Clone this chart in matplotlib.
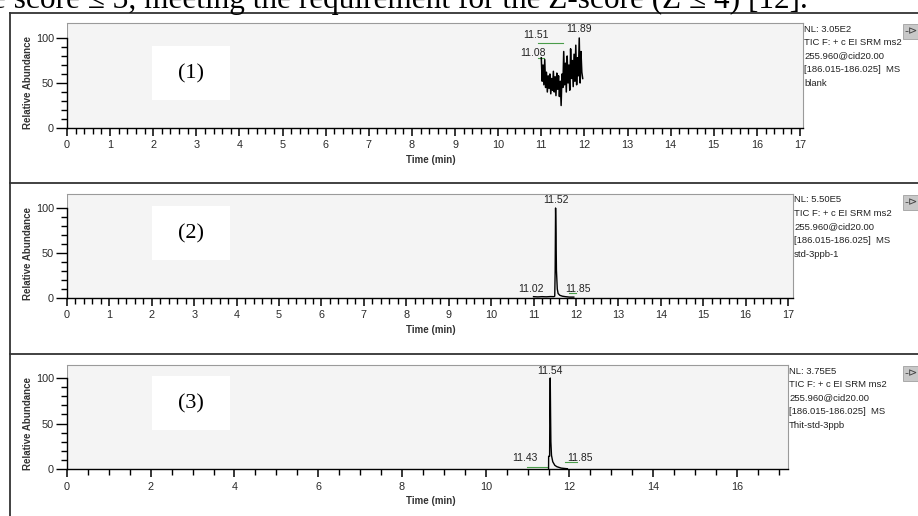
import numpy as np
import matplotlib
matplotlib.use("Agg")
import matplotlib.pyplot as plt
from matplotlib.patches import Rectangle
from matplotlib.lines import Line2D
from matplotlib.ticker import MultipleLocator, FixedLocator

# ==============================================
# Data
# ==============================================

# (1) blank - noisy trace only
time_blank = [11.00, 11.02, 11.04, 11.06, 11.08, 11.10, 11.12, 11.14, 11.16, 11.18,
              11.20, 11.22, 11.24, 11.26, 11.28, 11.30, 11.32, 11.34, 11.36, 11.38,
              11.40, 11.42, 11.44, 11.46, 11.48, 11.50, 11.52, 11.54, 11.56, 11.58,
              11.60, 11.62, 11.64, 11.66, 11.68, 11.70, 11.72, 11.74, 11.76, 11.78,
              11.80, 11.82, 11.84, 11.86, 11.88, 11.90, 11.92, 11.94, 11.96]
abund_blank = [78, 52, 70, 48, 76, 45, 62, 40, 58, 44,
               60, 38, 55, 42, 63, 40, 57, 36, 61, 43,
               58, 35, 52, 25, 60, 45, 85, 48, 72, 40,
               80, 50, 70, 42, 88, 55, 75, 46, 82, 52,
               92, 48, 78, 58, 100, 50, 85, 62, 55]

# (2) std-3ppb-1
time_std = [11.00, 11.10, 11.20, 11.30, 11.40, 11.48, 11.50, 11.51, 11.52, 11.53,
            11.54, 11.56, 11.58, 11.62, 11.68, 11.75, 11.85, 11.95]
abund_std = [1.5, 1.2, 1.5, 1.3, 1.6, 1.5, 2, 30, 100, 72,
             31, 10, 5, 3, 2, 1.5, 1, 1]

# (3) Thit-std-3ppb
time_thit = [11.50, 11.502, 11.525, 11.53, 11.54, 11.548, 11.555, 11.57, 11.60,
             11.65, 11.70, 11.80, 11.90, 11.95]
abund_thit = [0, 14, 14, 60, 100, 60, 30, 15, 8,
              4, 2.5, 1, 0.5, 0.3]

# peak labels (text, time, abundance) and green integration baselines (t0, t1, level)
labels_blank = [("11.51", 10.88, 103), ("11.89", 11.88, 110), ("11.08", 10.81, 83)]
base_blank = [(10.93, 11.50, 95), (10.93, 11.07, 78)]
labels_std = [("11.52", 11.52, 109), ("11.02", 10.95, 10), ("11.85", 12.04, 10)]
base_std = [(11.84, 12.00, 5.5)]
labels_thit = [("11.54", 11.54, 108), ("11.43", 10.94, 12), ("11.85", 12.24, 12)]
base_thit = [(10.99, 11.47, 2), (11.90, 12.19, 7.7)]

info_head = ["TIC F: + c EI SRM ms2", "255.960@cid20.00", "[186.015-186.025]  MS"]
nl_values = ["NL: 3.05E2", "NL: 5.50E5", "NL: 3.75E5"]
sample_names = ["blank", "std-3ppb-1", "Thit-std-3ppb"]
panel_tags = ["(1)", "(2)", "(3)"]

# ==============================================
# Figure set-up (pixel helpers)
# ==============================================
plt.rcParams["font.family"] = ["Liberation Sans", "DejaVu Sans"]
SERIF = ["Liberation Serif", "DejaVu Serif"]

W, H = 918, 516
fig = plt.figure(figsize=(W / 100, H / 100), dpi=100)
fig.patch.set_facecolor("white")


def fx(px):
    return px / W


def fy(py):
    return 1 - py / H


# caption line of the page above, cut by the top edge as in the source scan
fig.text(fx(-8), fy(8), "e score \u2264 3, meeting the requirement for the Z-score (Z \u2264 4) [12].",
         family=SERIF, fontsize=22.5, va="baseline", ha="left", color="black")

# panel frames
frame_col = "#333333"
for yy in [13, 183, 354]:
    fig.add_artist(Line2D([fx(10), 1], [fy(yy), fy(yy)], transform=fig.transFigure,
                          color=frame_col, lw=1.3))
fig.add_artist(Line2D([fx(10), fx(10)], [fy(13), 0], transform=fig.transFigure,
                      color=frame_col, lw=1.3))

# layout of each panel in pixels: right edge, y of 0 %, top of plot box, y of 100 %, x of last labelled tick
layouts = [
    dict(right=803, y0=128, top=23, y100=38, tick_px=800, tick_val=17, major=1, minor=0.2, box_top=46),
    dict(right=793, y0=298, top=194, y100=208, tick_px=788, tick_val=17, major=1, minor=0.2, box_top=206),
    dict(right=788, y0=469, top=365, y100=378, tick_px=737, tick_val=16, major=2, minor=0.5, box_top=376),
]
traces = [(time_blank, abund_blank, 1.1), (time_std, abund_std, 1.0), (time_thit, abund_thit, 1.0)]
all_labels = [labels_blank, labels_std, labels_thit]
all_bases = [base_blank, base_std, base_thit]

# ==============================================
# Draw the panels
# ==============================================
for i, lay in enumerate(layouts):
    left = 67
    ax = fig.add_axes([fx(left), fy(lay["y0"]), (lay["right"] - left) / W, (lay["y0"] - lay["top"]) / H])
    xmax = lay["tick_val"] * (lay["right"] - left) / (lay["tick_px"] - left)
    ymax = 100 * (lay["y0"] - lay["top"]) / (lay["y0"] - lay["y100"])
    ax.set_xlim(0, xmax)
    ax.set_ylim(0, ymax)
    ax.set_facecolor("#f4f4f4")

    for side in ["top", "right"]:
        ax.spines[side].set_color("#9a9a9a")
        ax.spines[side].set_linewidth(0.8)
    ax.spines["left"].set_bounds(0, 100)
    ax.spines["left"].set_linewidth(1.0)
    ax.spines["bottom"].set_linewidth(1.0)
    ax.axvline(0, ymin=100 / ymax, ymax=1, color="#9a9a9a", lw=0.8)

    ax.xaxis.set_major_locator(MultipleLocator(lay["major"]))
    ax.xaxis.set_minor_locator(MultipleLocator(lay["minor"]))
    ax.yaxis.set_major_locator(FixedLocator([0, 50, 100]))
    ax.yaxis.set_minor_locator(FixedLocator(np.arange(0, 101, 10)))
    ax.tick_params(axis="x", which="major", length=6, width=1.1, pad=3,
                   labelsize=7.8, labelcolor="#2a2a2a")
    ax.tick_params(axis="x", which="minor", length=4.5, width=1.0)
    ax.tick_params(axis="y", which="major", length=8, width=1.0, pad=1.5,
                   labelsize=7.8, labelcolor="#2a2a2a")
    ax.tick_params(axis="y", which="minor", length=4, width=1.0)

    t, a, lw = traces[i]
    ax.plot(t, a, color="black", lw=lw, zorder=3)

    for txt, tx, ty in all_labels[i]:
        ax.text(tx, ty, txt, fontsize=7.5, color="#222222", ha="center", va="center", zorder=4)
    for t0, t1, lev in all_bases[i]:
        ax.plot([t0, t1], [lev, lev], color="#4a9c4a", lw=0.8, zorder=2)

    # axis titles
    fig.text(fx(28), fy((lay["top"] + lay["y0"]) / 2 + 7), "Relative Abundance", rotation=90,
             fontsize=7, fontweight="bold", color="#333333", ha="center", va="center")
    fig.text(fx(431), fy(lay["y0"] + 32), "Time (min)", fontsize=7, fontweight="bold",
             color="#333333", ha="center", va="center")

    # white tag box with (n)
    bt = lay["box_top"]
    fig.add_artist(Rectangle((fx(152), fy(bt + 54)), 78 / W, 54 / H, transform=fig.transFigure,
                             facecolor="white", edgecolor="none", zorder=5))
    fig.text(fx(191), fy(bt + 28), panel_tags[i], family=SERIF, fontsize=16,
             ha="center", va="center", zorder=6)

    # instrument info block on the right
    info = [nl_values[i]] + info_head + [sample_names[i]]
    for k, line in enumerate(info):
        fig.text(fx(lay["right"] + 1), fy(lay["top"] + 6 + k * 13.6), line, fontsize=6.8,
                 color="#222222", ha="left", va="center")

    # little pin button
    fig.add_artist(Rectangle((fx(903), fy(lay["top"] + 16)), 15 / W, 15 / H, transform=fig.transFigure,
                             facecolor="#c8c8c8", edgecolor="#a0a0a0", lw=0.6, zorder=5))
    fig.text(fx(904), fy(lay["top"] + 8), "-\u22b3", fontsize=8, family=["DejaVu Sans"],
             color="#444444", ha="left", va="center", zorder=6)

fig.savefig("out.png", dpi=100)
